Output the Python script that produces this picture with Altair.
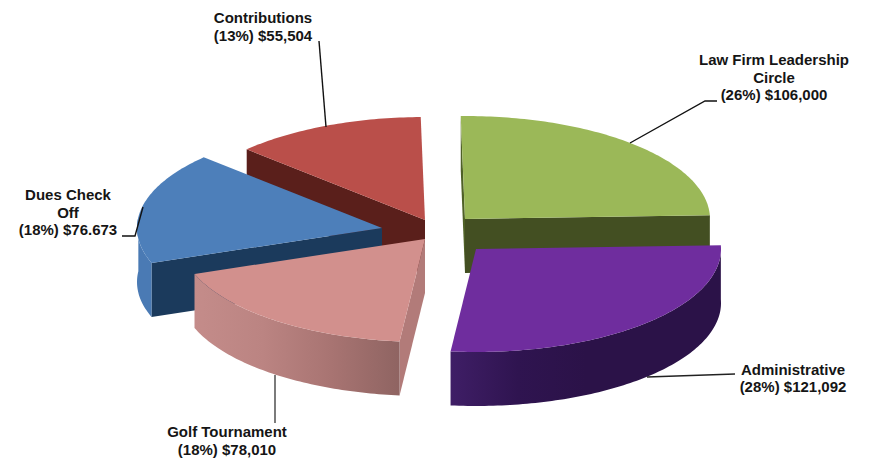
import math
import altair as alt
import pandas as pd

# ---- data ----
categories = ["Law Firm Leadership", "Administrative", "Golf Tournament", "Dues Check", "Contributions"]
values = [106000, 121092, 78010, 76673, 55504]
label_lines = [
    ["Law Firm Leadership", "Circle", "(26%) $106,000"],
    ["Administrative", "(28%) $121,092"],
    ["Golf Tournament", "(18%) $78,010"],
    ["Dues Check", "Off", "(18%) $76.673"],
    ["Contributions", "(13%) $55,504"],
]
label_x = [774, 793, 227, 68, 263]
label_y = [60.3, 369.5, 432.3, 195.3, 18.3]

# ---- layout of the exploded 3-D pie ----
apex = [(465, 219), (476, 249), (425, 239), (382, 228), (425, 220)]
RX, RY, DEPTH, START = 245, 103, 54, -1
boundary_nudge = [0, 1.7, 0, 0, 0, 0]
LINE_H = 17.5

leaders = [
    [(717, 101), (705, 101), (630, 143)],
    [(735, 374), (647, 377)],
    [(275, 375), (275, 423)],
    [(122, 236), (135, 236), (143, 207)],
    [(319, 41), (326, 127)],
]
leader_colors = ["#111111", "#222222", "#444444", "#111111", "#111111"]

X = alt.Scale(domain=[8, 864], range=[0, 856])
Y = alt.Scale(domain=[8, 464], range=[0, 456])


def grad(*stops):
    n = len(stops) - 1
    return alt.LinearGradient(
        gradient="linear", x1=0, x2=1, y1=0, y2=0,
        stops=[alt.GradientStop(color=c, offset=i / n) for i, c in enumerate(stops)],
    )


def poly(points, fill):
    df = pd.DataFrame(points, columns=["x", "y"]).assign(i=range(len(points)))
    return alt.Chart(df).mark_line(fill=fill, strokeWidth=0, interpolate="linear").encode(
        x=alt.X("x:Q", scale=X, axis=None),
        y=alt.Y("y:Q", scale=Y, axis=None),
        order="i:Q",
    )


total = sum(values)
bounds, cum = [], 0.0
for k in range(len(values) + 1):
    bounds.append(START + cum / total * 360 + boundary_nudge[k])
    if k < len(values):
        cum += values[k]


def pt(k, t, drop=0):
    a = math.radians(t)
    return (apex[k][0] + RX * math.sin(a), apex[k][1] - RY * math.cos(a) + drop)


def arc(k, t0, t1, drop=0):
    n = max(2, int(abs(t1 - t0)) + 1)
    return [pt(k, t0 + (t1 - t0) * i / n, drop) for i in range(n + 1)]


def top(k):
    return [apex[k]] + arc(k, bounds[k], bounds[k + 1])


def radial_face(k, t):
    p = pt(k, t)
    return [apex[k], p, (p[0], p[1] + DEPTH), (apex[k][0], apex[k][1] + DEPTH)]


def outer_wall(k, t0, t1):
    return arc(k, t0, t1) + arc(k, t1, t0, DEPTH)


layers = []
# Law firm
law_start = pt(0, bounds[0])
layers += [
    poly([law_start, apex[0], (apex[0][0], apex[0][1] + DEPTH), (law_start[0], law_start[1] + DEPTH)], "#4f6127"),
    poly(radial_face(0, bounds[1]), "#434f22"),
    poly(top(0), "#9BB858"),
]
# Contributions
layers += [
    poly(radial_face(4, bounds[4]), "#5a1f1b"),
    poly(top(4), "#BA4F4A"),
]
# Dues
layers += [
    poly(radial_face(3, bounds[3]), "#1b3a5c"),
    poly(outer_wall(3, bounds[3], 276), "#4a7ab4"),
    poly(top(3), "#4D7FBA"),
]
# Golf
layers += [
    poly(radial_face(2, bounds[2]), "#b27b79"),
    poly(outer_wall(2, bounds[2], bounds[3]), grad("#c48c8a", "#bb8482", "#a87472", "#8f6462")),
    poly(top(2), "#D2908D"),
]
# Administrative
layers += [
    poly(outer_wall(1, bounds[1], bounds[2]), grad("#3f1e66", "#2f1450", "#2b1248", "#2b1248", "#2b1248")),
    poly(top(1), "#6F2D9E"),
]

# Leader lines
for pts, c in zip(leaders, leader_colors):
    df = pd.DataFrame(pts, columns=["x", "y"]).assign(i=range(len(pts)))
    layers.append(
        alt.Chart(df).mark_line(color=c, strokeWidth=1.4).encode(
            x=alt.X("x:Q", scale=X, axis=None),
            y=alt.Y("y:Q", scale=Y, axis=None),
            order="i:Q",
        )
    )

# Labels
rows = []
for lines, lx, ly in zip(label_lines, label_x, label_y):
    for j, s in enumerate(lines):
        rows.append({"x": lx, "y": ly + j * LINE_H, "t": s})
layers.append(
    alt.Chart(pd.DataFrame(rows)).mark_text(
        font="Liberation Sans", fontWeight="bold", fontSize=15, color="#151515",
        align="center", baseline="middle",
    ).encode(
        x=alt.X("x:Q", scale=X, axis=None),
        y=alt.Y("y:Q", scale=Y, axis=None),
        text="t:N",
    )
)

chart = alt.layer(*layers).properties(
    width=856, height=456, padding=0, background="white",
    autosize=alt.AutoSizeParams(type="none"),
).configure_view(stroke=None)

chart.save("out.html", embed_options={"renderer": "svg", "actions": False})
